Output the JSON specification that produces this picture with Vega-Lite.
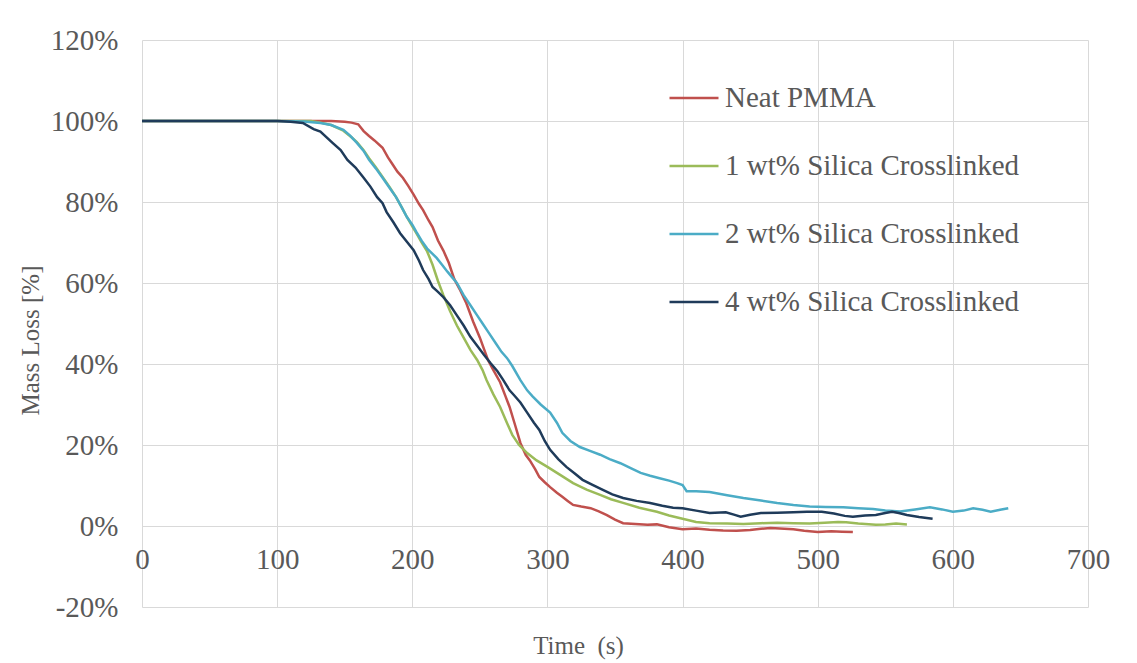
{
  "$schema": "https://vega.github.io/schema/vega-lite/v6.json",
  "width": 946,
  "height": 567,
  "autosize": {"type": "none"},
  "padding": {"left": 142, "top": 40, "right": 49, "bottom": 56},
  "background": "white",
  "config": {"view": {"stroke": null}, "font": "Liberation Serif"},
  "datasets": {
    "neat": [
      {"t":0,"v":100},{"t":100,"v":100},{"t":140,"v":100},{"t":150,"v":99.8},{"t":155,"v":99.6},{"t":160,"v":99.2},{"t":164,"v":97.5},{"t":168,"v":96.3},{"t":172,"v":95.2},{"t":178,"v":93.4},{"t":182,"v":91},{"t":185,"v":89.5},{"t":189,"v":87.5},{"t":193,"v":86},{"t":197,"v":84},{"t":201,"v":81.8},{"t":205,"v":79.5},{"t":208,"v":78},{"t":212,"v":75.5},{"t":215,"v":73.8},{"t":219,"v":70.5},{"t":223,"v":68},{"t":227,"v":65},{"t":231,"v":61},{"t":235,"v":58.5},{"t":240,"v":55},{"t":245,"v":50.5},{"t":250,"v":46.5},{"t":256,"v":41},{"t":260,"v":38.5},{"t":265,"v":35.5},{"t":269,"v":32},{"t":272,"v":29.4},{"t":276,"v":25},{"t":280,"v":20.5},{"t":284,"v":17.5},{"t":287,"v":16.2},{"t":291,"v":14},{"t":294,"v":12.1},{"t":298,"v":10.8},{"t":302,"v":9.6},{"t":307,"v":8.2},{"t":311,"v":7.2},{"t":315,"v":6.2},{"t":319,"v":5.2},{"t":325,"v":4.8},{"t":332,"v":4.4},{"t":338,"v":3.6},{"t":344,"v":2.7},{"t":350,"v":1.6},{"t":356,"v":0.7},{"t":365,"v":0.5},{"t":374,"v":0.3},{"t":381,"v":0.4},{"t":390,"v":-0.3},{"t":400,"v":-0.8},{"t":410,"v":-0.6},{"t":420,"v":-0.9},{"t":430,"v":-1.1},{"t":440,"v":-1.2},{"t":450,"v":-1.0},{"t":458,"v":-0.7},{"t":465,"v":-0.5},{"t":472,"v":-0.6},{"t":482,"v":-0.8},{"t":490,"v":-1.2},{"t":500,"v":-1.5},{"t":510,"v":-1.3},{"t":518,"v":-1.4},{"t":526,"v":-1.5}
    ],
    "w1": [
      {"t":0,"v":100},{"t":100,"v":100},{"t":125,"v":100},{"t":132,"v":99.6},{"t":140,"v":99},{"t":149,"v":97.6},{"t":155,"v":96},{"t":159,"v":94.8},{"t":164,"v":92.8},{"t":168,"v":90.8},{"t":173,"v":88.6},{"t":178,"v":86.2},{"t":183,"v":83.8},{"t":188,"v":81.2},{"t":192,"v":78.8},{"t":196,"v":76.3},{"t":200,"v":74},{"t":203,"v":72.3},{"t":207,"v":70},{"t":211,"v":67.8},{"t":215,"v":64.5},{"t":219,"v":60.5},{"t":223,"v":57},{"t":228,"v":53},{"t":233,"v":49.5},{"t":238,"v":46.5},{"t":243,"v":43.5},{"t":248,"v":41},{"t":252,"v":38.5},{"t":255,"v":36},{"t":260,"v":32.5},{"t":265,"v":29.4},{"t":270,"v":25.5},{"t":274,"v":22.5},{"t":279,"v":20},{"t":285,"v":18},{"t":292,"v":16.2},{"t":300,"v":14.6},{"t":310,"v":12.5},{"t":319,"v":10.6},{"t":329,"v":9},{"t":339,"v":7.7},{"t":347,"v":6.6},{"t":356,"v":5.7},{"t":368,"v":4.5},{"t":381,"v":3.5},{"t":390,"v":2.6},{"t":400,"v":1.8},{"t":410,"v":1.0},{"t":420,"v":0.7},{"t":433,"v":0.6},{"t":445,"v":0.5},{"t":458,"v":0.7},{"t":470,"v":0.8},{"t":482,"v":0.7},{"t":494,"v":0.6},{"t":505,"v":0.8},{"t":515,"v":1.0},{"t":521,"v":0.9},{"t":530,"v":0.6},{"t":543,"v":0.3},{"t":550,"v":0.4},{"t":558,"v":0.6},{"t":566,"v":0.4}
    ],
    "w2": [
      {"t":0,"v":100},{"t":100,"v":100},{"t":120,"v":99.9},{"t":132,"v":99.5},{"t":140,"v":99},{"t":149,"v":97.8},{"t":154,"v":96.4},{"t":159,"v":94.6},{"t":164,"v":92.6},{"t":168,"v":90.4},{"t":173,"v":88.3},{"t":178,"v":86},{"t":183,"v":83.6},{"t":188,"v":81.2},{"t":192,"v":78.8},{"t":196,"v":76.3},{"t":200,"v":74.4},{"t":203,"v":72.6},{"t":207,"v":70.4},{"t":211,"v":68.5},{"t":215,"v":67.2},{"t":218,"v":66.2},{"t":222,"v":64.5},{"t":226,"v":62.8},{"t":230,"v":61.2},{"t":233,"v":60},{"t":238,"v":57},{"t":243,"v":54.5},{"t":248,"v":52},{"t":252,"v":50},{"t":257,"v":47.5},{"t":262,"v":45},{"t":266,"v":43},{"t":270,"v":41.5},{"t":274,"v":39.5},{"t":280,"v":36},{"t":285,"v":33.5},{"t":289,"v":32},{"t":295,"v":30},{"t":302,"v":28},{"t":307,"v":25.5},{"t":311,"v":23},{"t":317,"v":21},{"t":324,"v":19.5},{"t":331,"v":18.6},{"t":339,"v":17.6},{"t":346,"v":16.5},{"t":354,"v":15.5},{"t":362,"v":14.2},{"t":369,"v":13.1},{"t":376,"v":12.4},{"t":383,"v":11.8},{"t":390,"v":11.2},{"t":396,"v":10.6},{"t":400,"v":10.1},{"t":403,"v":8.6},{"t":410,"v":8.6},{"t":420,"v":8.4},{"t":433,"v":7.6},{"t":445,"v":6.9},{"t":458,"v":6.3},{"t":470,"v":5.7},{"t":482,"v":5.2},{"t":494,"v":4.8},{"t":506,"v":4.7},{"t":519,"v":4.6},{"t":530,"v":4.4},{"t":541,"v":4.2},{"t":550,"v":3.8},{"t":561,"v":3.6},{"t":572,"v":4.1},{"t":583,"v":4.6},{"t":592,"v":4.1},{"t":600,"v":3.5},{"t":608,"v":3.8},{"t":615,"v":4.4},{"t":622,"v":4.0},{"t":628,"v":3.5},{"t":635,"v":4.0},{"t":641,"v":4.4}
    ],
    "w4": [
      {"t":0,"v":100},{"t":100,"v":100},{"t":110,"v":99.8},{"t":119,"v":99.5},{"t":127,"v":98},{"t":132,"v":97.4},{"t":141,"v":94.6},{"t":147,"v":92.8},{"t":152,"v":90.4},{"t":158,"v":88.5},{"t":164,"v":86},{"t":169,"v":83.8},{"t":174,"v":81.2},{"t":178,"v":79.7},{"t":181,"v":77.5},{"t":186,"v":75},{"t":191,"v":72.3},{"t":196,"v":70.2},{"t":201,"v":68.1},{"t":205,"v":65.5},{"t":208,"v":63.2},{"t":212,"v":61},{"t":215,"v":59},{"t":219,"v":57.8},{"t":223,"v":56.5},{"t":228,"v":54.5},{"t":233,"v":52},{"t":238,"v":49.5},{"t":243,"v":46.7},{"t":248,"v":44.5},{"t":253,"v":42.3},{"t":258,"v":40.2},{"t":263,"v":38.2},{"t":267,"v":36.2},{"t":272,"v":33.5},{"t":275,"v":32.4},{"t":280,"v":30.5},{"t":285,"v":28},{"t":290,"v":25.5},{"t":294,"v":23.7},{"t":298,"v":21},{"t":302,"v":18.8},{"t":308,"v":16.5},{"t":314,"v":14.6},{"t":320,"v":13},{"t":326,"v":11.4},{"t":333,"v":10.2},{"t":341,"v":8.9},{"t":348,"v":7.8},{"t":356,"v":6.9},{"t":366,"v":6.2},{"t":376,"v":5.7},{"t":385,"v":5.0},{"t":393,"v":4.5},{"t":400,"v":4.4},{"t":410,"v":3.8},{"t":420,"v":3.2},{"t":432,"v":3.4},{"t":438,"v":2.8},{"t":443,"v":2.3},{"t":450,"v":2.8},{"t":458,"v":3.2},{"t":470,"v":3.3},{"t":482,"v":3.4},{"t":492,"v":3.5},{"t":503,"v":3.5},{"t":512,"v":3.1},{"t":520,"v":2.5},{"t":526,"v":2.3},{"t":535,"v":2.6},{"t":543,"v":2.7},{"t":550,"v":3.2},{"t":555,"v":3.5},{"t":560,"v":3.2},{"t":566,"v":2.7},{"t":575,"v":2.2},{"t":585,"v":1.8}
    ]
  },
  "layer": [
    {"data": {"name": "neat"}, "transform": [{"calculate": "'Neat PMMA'", "as": "series"}], "mark": {"type": "line", "strokeWidth": 2.5}, "encoding": {}},
    {"data": {"name": "w1"}, "transform": [{"calculate": "'1 wt% Silica Crosslinked'", "as": "series"}], "mark": {"type": "line", "strokeWidth": 2.5}, "encoding": {}},
    {"data": {"name": "w2"}, "transform": [{"calculate": "'2 wt% Silica Crosslinked'", "as": "series"}], "mark": {"type": "line", "strokeWidth": 2.5}, "encoding": {}},
    {"data": {"name": "w4"}, "transform": [{"calculate": "'4 wt% Silica Crosslinked'", "as": "series"}], "mark": {"type": "line", "strokeWidth": 2.5}, "encoding": {}}
  ],
  "encoding": {
    "x": {
      "field": "t", "type": "quantitative",
      "scale": {"domain": [0, 700], "nice": false, "zero": false},
      "axis": {
        "values": [0, 100, 200, 300, 400, 500, 600, 700],
        "title": "Time\u00a0\u00a0(s)",
        "offset": -81,
        "grid": true, "gridColor": "#D9D9D9", "gridWidth": 1,
        "domain": false, "ticks": false, "labelFlush": false, "labelOverlap": false,
        "labelFont": "Liberation Serif", "labelFontSize": 29, "labelColor": "#595959", "labelPadding": 19,
        "titleFont": "Liberation Serif", "titleFontSize": 25, "titleFontWeight": "normal", "titleColor": "#595959",
        "titleX": 436, "titleY": 119, "titleAlign": "center", "titleBaseline": "middle"
      }
    },
    "y": {
      "field": "v", "type": "quantitative",
      "scale": {"domain": [-20, 120], "nice": false, "zero": false},
      "axis": {
        "values": [-20, 0, 20, 40, 60, 80, 100, 120],
        "labelExpr": "datum.value + '%'",
        "title": "Mass Loss [%]",
        "grid": true, "gridColor": "#D9D9D9", "gridWidth": 1,
        "domain": false, "ticks": false, "labelFlush": false, "labelOverlap": false,
        "labelFont": "Liberation Serif", "labelFontSize": 29, "labelColor": "#595959", "labelPadding": 24,
        "titleFont": "Liberation Serif", "titleFontSize": 25, "titleFontWeight": "normal", "titleColor": "#595959",
        "titleX": -112, "titleY": 300, "titleAlign": "center", "titleBaseline": "middle", "titleAngle": -90
      }
    },
    "color": {
      "field": "series", "type": "nominal",
      "scale": {
        "domain": ["Neat PMMA", "1 wt% Silica Crosslinked", "2 wt% Silica Crosslinked", "4 wt% Silica Crosslinked"],
        "range": ["#C0504D", "#9BBB59", "#4BACC6", "#1F3B5A"]
      },
      "legend": {
        "title": null, "orient": "none", "legendX": 526, "legendY": 32,
        "symbolType": "stroke", "symbolSize": 2401, "symbolStrokeWidth": 2.5,
        "labelFont": "Liberation Serif", "labelFontSize": 29, "labelColor": "#595959",
        "labelOffset": 5, "rowPadding": 27, "padding": 0, "labelLimit": 500
      }
    }
  }
}
